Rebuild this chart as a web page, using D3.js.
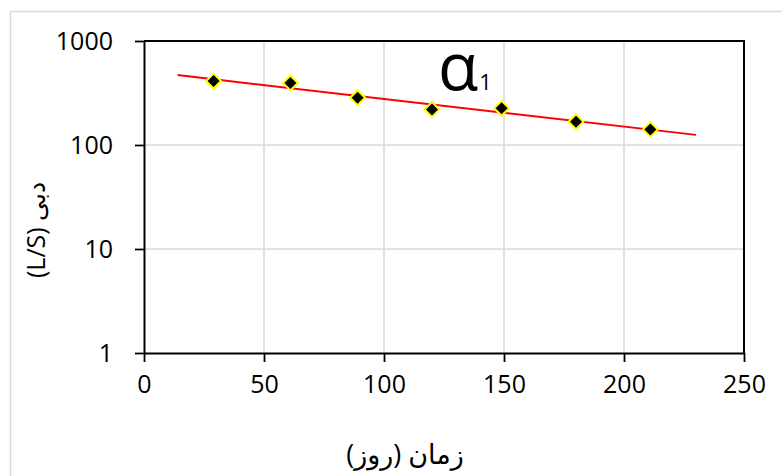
<!DOCTYPE html>
<html>
<head>
<meta charset="utf-8">
<script src="https://cdn.jsdelivr.net/npm/d3@7"></script>
<style>
  html, body { margin: 0; padding: 0; background: #fff; }
  svg text { font-family: "Open Sans", "DejaVu Sans", sans-serif; fill: #000; }
</style>
</head>
<body>
<svg id="chart" width="782" height="476"></svg>
<script>
// Discharge measurements (day, L/S)
const days = [29, 61, 89, 120, 149, 180, 211];
const flow = [412, 395, 285, 220, 225, 167, 141];

// Axis ticks
const xTicks = [0, 50, 100, 150, 200, 250];
const yTicks = [1, 10, 100, 1000];

// Range covered by the exponential trend line (days)
const trendSpan = [14, 230];

const xTitle = "زمان (روز)";
const yTitle = "(L/S) دبی";

const svg = d3.select("#chart");
const plotL = 144, plotR = 744, plotT = 41, plotB = 353;

const x = d3.scaleLinear().domain([0, 250]).range([plotL, plotR]);
const y = d3.scaleLog().domain([1, 1000]).range([plotB, plotT]);

// outer chart border
svg.append("rect")
  .attr("x", 10.5).attr("y", 11.5).attr("width", 800).attr("height", 500)
  .attr("fill", "none").attr("stroke", "#d9d9d9").attr("stroke-width", 1.5);

// gridlines
const grid = svg.append("g").attr("stroke", "#d9d9d9").attr("stroke-width", 1.5);
grid.selectAll("line.v").data(xTicks.slice(1, -1)).join("line").attr("class", "v")
  .attr("x1", d => x(d)).attr("x2", d => x(d)).attr("y1", plotT).attr("y2", plotB);
grid.selectAll("line.h").data(yTicks.slice(1, -1)).join("line").attr("class", "h")
  .attr("x1", plotL).attr("x2", plotR).attr("y1", d => y(d)).attr("y2", d => y(d));

// plot frame (top and right)
svg.append("path")
  .attr("d", `M${plotL},${plotT}H${plotR}V${plotB}`)
  .attr("fill", "none").attr("stroke", "#000").attr("stroke-width", 2);

// axes
const xAxis = svg.append("g").attr("transform", `translate(0,${plotB})`)
  .call(d3.axisBottom(x).tickValues(xTicks).tickSize(9).tickSizeOuter(0).tickPadding(13).tickFormat(d3.format("d")));
const yAxis = svg.append("g").attr("transform", `translate(${plotL},0)`)
  .call(d3.axisLeft(y).tickValues(yTicks).tickSize(9).tickSizeOuter(0).tickPadding(22).tickFormat(d3.format("d")));
[xAxis, yAxis].forEach(a => {
  a.select(".domain").attr("stroke", "#000").attr("stroke-width", 2);
  a.selectAll(".tick line").attr("stroke", "#000").attr("stroke-width", 1.8);
  a.selectAll(".tick text").attr("font-size", 25)
    .attr("font-family", "'Open Sans', 'DejaVu Sans', sans-serif").attr("fill", "#000");
});
yAxis.selectAll(".tick text").attr("dy", "0.35em");

// exponential trend line fitted to the measurements (least squares on log10)
const ly = flow.map(v => Math.log10(v));
const mx = d3.mean(days), my = d3.mean(ly);
const slope = d3.sum(days, (d, i) => (d - mx) * (ly[i] - my)) / d3.sum(days, d => (d - mx) ** 2);
const icpt = my - slope * mx;
const trendPts = trendSpan.map(d => [d, Math.pow(10, icpt + slope * d)]);
svg.append("path")
  .datum(trendPts)
  .attr("d", d3.line().x(d => x(d[0])).y(d => y(d[1])))
  .attr("fill", "none").attr("stroke", "#ff0000").attr("stroke-width", 2);

// diamond markers
const diamond = d3.symbol().type(d3.symbolSquare).size(110);
svg.append("g").selectAll("path").data(days).join("path")
  .attr("d", diamond)
  .attr("transform", (d, i) => `translate(${x(d)},${y(flow[i])}) rotate(45)`)
  .attr("fill", "#000").attr("stroke", "#ffff00").attr("stroke-width", 2);

// series label
const lab = svg.append("text").attr("x", 438).attr("y", 90).attr("font-size", 66);
lab.append("tspan").text("α");
lab.append("tspan").attr("font-size", 22).attr("dx", 1).text("1");

// axis titles
svg.append("text")
  .attr("x", 405).attr("y", 464).attr("text-anchor", "middle")
  .attr("font-size", 27).attr("font-family", "'DejaVu Sans', sans-serif")
  .text(xTitle);
svg.append("text")
  .attr("transform", "translate(45,230) rotate(-90)")
  .attr("text-anchor", "middle").attr("font-size", 25)
  .attr("font-family", "'DejaVu Sans', sans-serif")
  .text(yTitle);
</script>
</body>
</html>
